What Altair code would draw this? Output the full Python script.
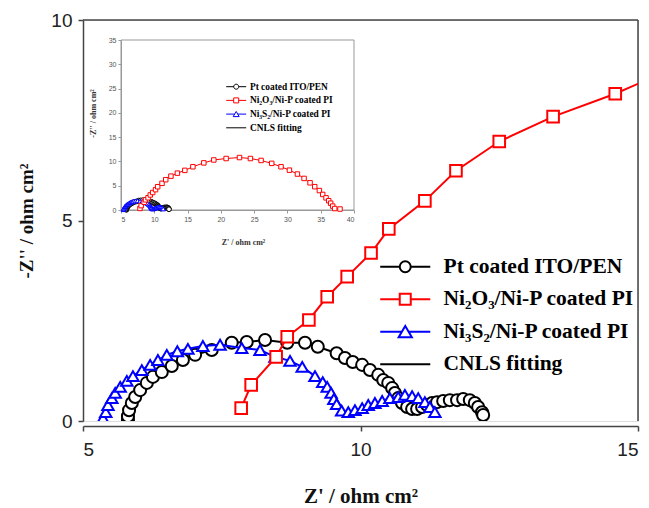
import altair as alt
import pandas as pd

# ---------------- data ----------------
black_x = [5.81, 5.81, 5.83, 5.88, 5.94, 6.03, 6.15, 6.26, 6.42, 6.60, 6.80, 7.02, 7.32,
           7.68, 7.95, 8.28, 8.68, 9.00, 9.23, 9.57, 9.72, 9.86, 10.03, 10.17, 10.32,
           10.41, 10.50, 10.57, 10.62, 10.68, 10.75, 10.84, 10.93, 11.02, 11.11, 11.20,
           11.29, 11.38, 11.49, 11.61, 11.74, 11.85, 11.97, 12.06, 12.12, 12.19, 12.21]
black_y = [0.03, 0.12, 0.27, 0.45, 0.60, 0.77, 0.95, 1.10, 1.22, 1.37, 1.52, 1.65, 1.77,
           1.95, 1.97, 2.02, 1.95, 1.95, 1.85, 1.69, 1.57, 1.47, 1.40, 1.27, 1.15,
           1.02, 0.95, 0.82, 0.70, 0.57, 0.45, 0.35, 0.30, 0.30, 0.35, 0.40,
           0.45, 0.47, 0.50, 0.52, 0.52, 0.55, 0.52, 0.45, 0.35, 0.22, 0.15]

blue_x = [5.36, 5.41, 5.45, 5.52, 5.58, 5.67, 5.79, 5.90, 6.06, 6.21, 6.35, 6.51, 6.70,
          6.89, 7.16, 7.47, 7.86, 8.19, 8.46, 8.73, 8.95, 9.18, 9.32, 9.40, 9.47, 9.52,
          9.57, 9.66, 9.78, 9.90, 10.03, 10.14, 10.26, 10.39, 10.53, 10.68, 10.80,
          10.93, 11.04, 11.16, 11.25, 11.34]
blue_y = [0.07, 0.22, 0.40, 0.57, 0.70, 0.85, 1.00, 1.12, 1.27, 1.40, 1.52, 1.65, 1.74,
          1.80, 1.87, 1.90, 1.82, 1.77, 1.60, 1.50, 1.35, 1.12, 0.97, 0.85, 0.70, 0.55,
          0.42, 0.26, 0.22, 0.27, 0.32, 0.40, 0.45, 0.50, 0.57, 0.60, 0.65,
          0.62, 0.57, 0.47, 0.35, 0.22]

red_x = [7.85, 8.03, 8.48, 8.68, 9.07, 9.40, 9.76, 10.19, 10.51, 11.16, 11.72, 12.50,
         13.47, 14.59, 15.8, 17.44, 18.94, 20.79, 22.8, 24.44, 26.04, 27.64, 29.04,
         30.3, 31.5, 32.5, 33.4, 34.1, 34.8, 35.3, 35.8, 36.2, 36.5, 36.8, 37.1, 37.9]
red_y = [0.32, 0.90, 1.60, 2.10, 2.52, 3.10, 3.60, 4.19, 4.79, 5.49, 6.24, 6.97,
         7.59, 8.16, 8.9, 9.7, 10.3, 10.6, 10.8, 10.6, 10.2, 9.6, 8.9,
         8.2, 7.4, 6.5, 5.6, 4.8, 4.0, 3.2, 2.5, 1.9, 1.4, 0.8, 0.3, 0.2]

labels = ["Pt coated ITO/PEN", "Ni\u2082O\u2083/Ni-P coated PI",
          "Ni\u2083S\u2082/Ni-P coated PI", "CNLS fitting"]
colors = ["#000000", "#ff0000", "#0000ff", "#000000"]

main_x_ticks = [5, 10, 15]
main_y_ticks = [0, 5, 10]
inset_x_ticks = [5, 10, 15, 20, 25, 30, 35, 40]
inset_y_ticks = [0, 5, 10, 15, 20, 25, 30, 35]


def frame(xs, ys):
    return pd.DataFrame({"x": xs, "y": ys, "i": list(range(len(xs)))})


black_df = frame(black_x, black_y)
blue_df = frame(blue_x, blue_y)
red_df = frame(red_x, red_y)

W, H = 555, 401
SERIF = "Liberation Serif"
SANS = "Liberation Sans"

# ---------------- main scales / axes ----------------
m_xscale = alt.Scale(domain=[5, 15])
m_yscale = alt.Scale(domain=[0, 10])
m_xaxis = alt.Axis(values=main_x_ticks, offset=5, tickSize=5, tickWidth=1.5,
                   domainWidth=1.5, domainColor="#444", tickColor="#444",
                   labelFont=SANS, labelFontSize=19, labelColor="#222", labelPadding=9,
                   grid=False, title="Z'  /  ohm cm\u00b2", titleFont=SERIF,
                   titleFontSize=21, titleFontWeight="bold", titleColor="#111",
                   titleX=W / 2, titleY=76, titleBaseline="alphabetic", titleAlign="center")
m_yaxis = alt.Axis(values=main_y_ticks, tickSize=5, tickWidth=1.5,
                   domainWidth=1.5, domainColor="#444", tickColor="#444",
                   labelFont=SANS, labelFontSize=19, labelColor="#222", labelPadding=6,
                   grid=False, title="-Z'' / ohm cm\u00b2", titleFont=SERIF,
                   titleFontSize=19, titleFontWeight="bold", titleColor="#111",
                   titleAngle=270, titleX=-57, titleY=H / 2, titleBaseline="middle",
                   titleAlign="center")


def mx(**kw):
    return alt.X(scale=m_xscale, axis=m_xaxis, **kw)


def my(**kw):
    return alt.Y(scale=m_yscale, axis=m_yaxis, **kw)


def series(df, color, shape, size, sw, lw, xf, yf, clip):
    base = alt.Chart(df).encode(x=xf(field="x", type="quantitative"),
                                y=yf(field="y", type="quantitative"),
                                order=alt.Order("i:Q"))
    line = base.mark_line(color=color, strokeWidth=lw, clip=clip)
    pts = base.mark_point(shape=shape, size=size, filled=True, fill="white",
                          stroke=color, strokeWidth=sw, opacity=1, clip=clip)
    return [line, pts]


one = pd.DataFrame({"k": [0]})
top_rule = alt.Chart(one).mark_rule(color="#444", strokeWidth=1.5).encode(
    x=mx(datum=5), x2=alt.X2(datum=15), y=my(datum=10))
right_rule = alt.Chart(one).mark_rule(color="#444", strokeWidth=1.5).encode(
    x=mx(datum=15), y=my(datum=0), y2=alt.Y2(datum=10))

main_layers = [top_rule, right_rule]
main_layers += series(black_df, "#000000", "circle", 145, 2, 2, mx, my, True)
main_layers += series(blue_df, "#0000ff", "triangle-up", 130, 2, 2, mx, my, True)
main_layers += series(red_df, "#ff0000", "square", 135, 2, 2, mx, my, True)
main = alt.layer(*main_layers)

# ---------------- inset ----------------
i_xscale = alt.Scale(domain=[5, 40], range=[38, 271])
i_yscale = alt.Scale(domain=[0, 35], range=[190, 20])
i_xaxis = alt.Axis(orient="bottom", offset=-211, values=inset_x_ticks, tickSize=3,
                   domainColor="#999", tickColor="#999", labelFont=SANS, labelFontSize=7,
                   labelColor="#555", labelPadding=2, grid=False,
                   title="Z' /  ohm cm\u00b2", titleFont=SERIF, titleFontSize=8,
                   titleFontWeight="bold", titleColor="#333", titleX=160, titleY=32,
                   titleBaseline="middle", titleAlign="center")
i_yaxis = alt.Axis(orient="left", offset=-38, values=inset_y_ticks, tickSize=3,
                   domainColor="#999", tickColor="#999", labelFont=SANS, labelFontSize=7,
                   labelColor="#555", labelPadding=2, grid=False,
                   title="-Z'' / ohm cm\u00b2", titleFont=SERIF, titleFontSize=8,
                   titleFontWeight="bold", titleColor="#333", titleAngle=270,
                   titleX=-28, titleY=93, titleBaseline="middle", titleAlign="center")


def ix(**kw):
    return alt.X(scale=i_xscale, axis=i_xaxis, **kw)


def iy(**kw):
    return alt.Y(scale=i_yscale, axis=i_yaxis, **kw)


inset_box = alt.Chart(one).mark_rect(filled=False, stroke="#999", strokeWidth=1).encode(
    x=ix(datum=5), x2=alt.X2(datum=40), y=iy(datum=0), y2=alt.Y2(datum=35))

inset_layers = [inset_box]
inset_layers += series(black_df, "#000000", "circle", 22, 1, 1, ix, iy, False)
inset_layers += series(blue_df, "#0000ff", "triangle-up", 20, 1, 1, ix, iy, False)
inset_layers += series(red_df, "#ff0000", "square", 20, 1, 1, ix, iy, False)
inset = alt.layer(*inset_layers)


# ---------------- legends ----------------
def sym_paths(h):
    return [
        f"M-{h},0L-1,0M1,0L{h},0M-1,0A1,1,0,1,1,1,0A1,1,0,1,1,-1,0Z",
        f"M-{h},0L-1,0M1,0L{h},0M-1,-1L1,-1L1,1L-1,1Z",
        f"M-{h},0L-0.62,0M0.62,0L{h},0M0,-1.05L1.2,1L-1.2,1Z",
        f"M-{h},0L{h},0",
    ]


leg_df = pd.DataFrame({"entry": labels})


def legend_layer(paths, size, sw, font_size, lx, ly, loff, rpad):
    lg = alt.Legend(title=None, orient="none", legendX=lx, legendY=ly, padding=0,
                    symbolSize=size, symbolStrokeWidth=sw, labelFont=SERIF,
                    labelFontSize=font_size, labelFontWeight="bold", labelColor="#000",
                    labelOffset=loff, rowPadding=rpad, labelLimit=400)
    return alt.Chart(leg_df).transform_filter("false").mark_point(
        filled=False, strokeWidth=sw, opacity=1).encode(
        color=alt.Color("entry:N", scale=alt.Scale(domain=labels, range=colors), legend=lg),
        shape=alt.Shape("entry:N", scale=alt.Scale(domain=labels, range=paths), legend=lg),
    )


leg_main = legend_layer(sym_paths(4.55), 121, 2, 21.5, 311.5, 236, 27.5, 9.5)
leg_inset = legend_layer(sym_paths(4.0), 25, 1, 9.4, 148.5, 62, 9, 2.7)

chart = alt.layer(main, inset, leg_main, leg_inset).resolve_scale(
    x="independent", y="independent", color="independent", shape="independent"
).resolve_axis(x="independent", y="independent").resolve_legend(
    color="independent", shape="independent"
).properties(
    width=W, height=H,
    autosize=alt.AutoSizeParams(type="none"),
    padding={"left": 75, "top": 12, "right": 3, "bottom": 87},
).configure_view(stroke=None).configure(background="white")

chart.save("out.html", embed_options={"renderer": "svg", "actions": False})
